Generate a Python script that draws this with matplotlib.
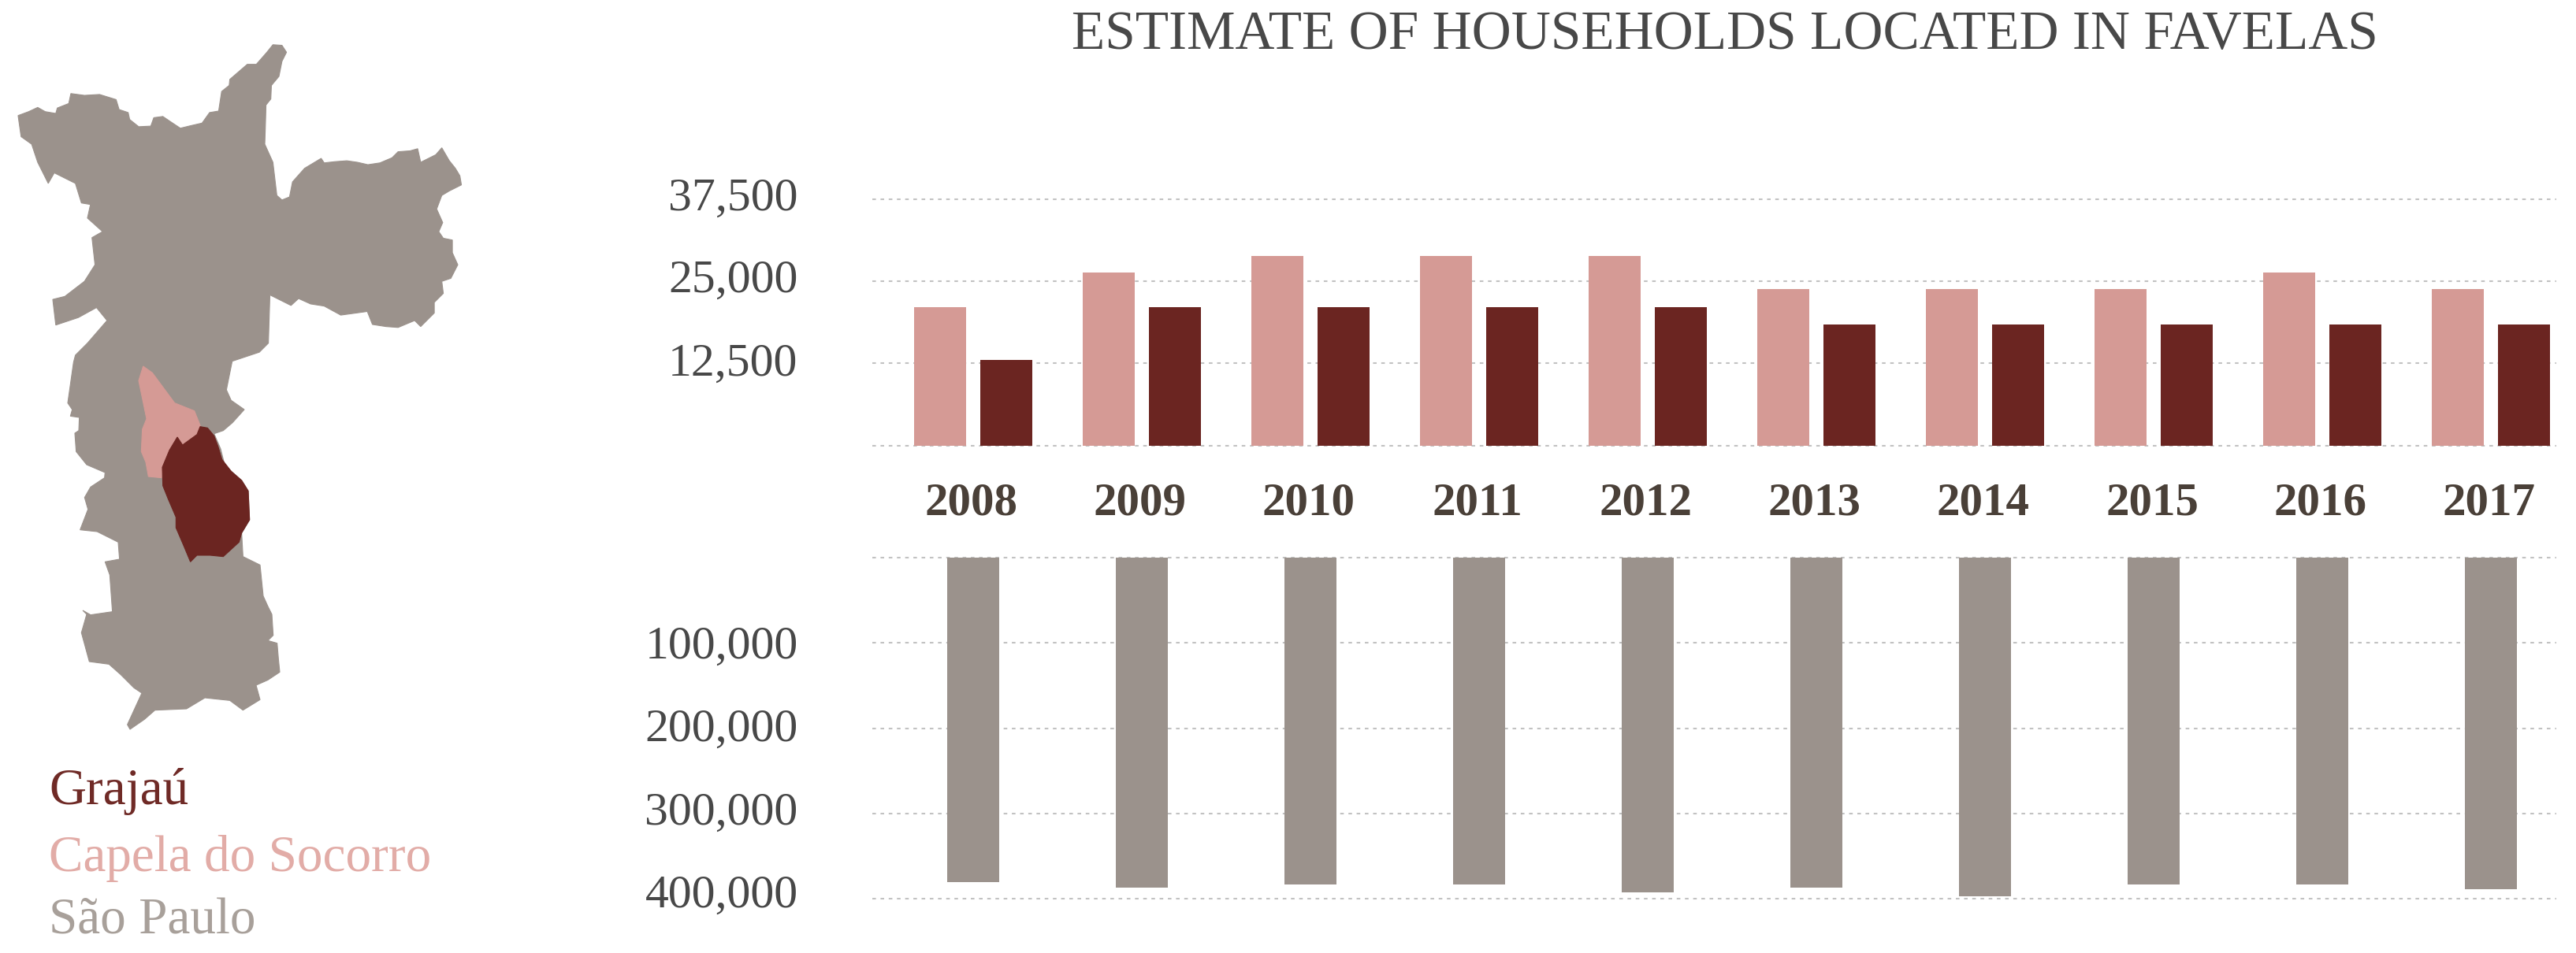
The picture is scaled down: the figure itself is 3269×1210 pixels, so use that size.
import numpy as np
import matplotlib
matplotlib.use("Agg")
import matplotlib.pyplot as plt
from matplotlib.patches import Polygon
from matplotlib.transforms import ScaledTranslation

W, H, DPI = 3269, 1210, 100

# ---- data ----
years = [2008, 2009, 2010, 2011, 2012, 2013, 2014, 2015, 2016, 2017]
capela = [21000, 26300, 28800, 28800, 28800, 23800, 23800, 23800, 26300, 23800]
grajau = [13000, 21000, 21000, 21000, 21000, 18400, 18400, 18400, 18400, 18400]
sao_paulo = [380000, 386500, 383500, 383500, 392000, 386500, 397000, 383500, 383500, 389000]
upper_ticks = [0, 12500, 25000, 37500]
upper_labels = ["", "12,500", "25,000", "37,500"]
lower_ticks = [0, 100000, 200000, 300000, 400000]
lower_labels = ["", "100,000", "200,000", "300,000", "400,000"]
legend_names = ["Grajaú", "Capela do Socorro", "São Paulo"]
title_text = "ESTIMATE OF HOUSEHOLDS LOCATED IN FAVELAS"

# map outlines (two crops with their own units)
outline_north = [(60,305),(95,292),(125,278),(150,292),(185,298),(190,280),(228,265),(235,232),(280,238),(330,235),(385,252),(395,285),(425,295),(430,318),(460,342),(500,340),(510,312),(540,308),(565,325),(598,347),(635,338),(670,330),(695,295),(725,290),(735,225),(760,205),(762,185),(820,135),(850,135),(885,95),(905,70),(935,72),(950,95),(935,125),(925,175),(900,205),(898,250),(882,270),(880,340),(878,400),(905,460),(918,570),(935,585),(960,575),(970,525),(1010,480),(1065,447),(1075,462),(1110,458),(1150,455),(1185,460),(1220,468),(1260,462),(1300,445),(1320,425),(1360,422),(1385,415),(1395,460),(1445,435),(1465,412),(1490,455),(1510,480),(1525,505),(1530,535),(1490,555),(1465,570),(1448,615),(1468,660),(1455,690),(1470,712),(1500,718),(1500,760),(1518,800),(1495,845),(1465,855),(1470,895),(1440,925),(1440,960),(1395,1005),(1375,985),(1320,1008),(1280,1005),(1235,998),(1218,955),(1130,967),(1075,937),(1030,930),(990,912),(965,935),(895,900),(890,1060),(860,1090),(770,1120)]
outline_south = [(725,130),(712,195),(730,235),(780,270),(735,320),(700,350),(665,362),(690,420),(705,480),(730,505),(770,540),(795,580),(800,690),(770,740),(775,830),(840,862),(852,980),(870,1020),(885,1050),(890,1130),(870,1150),(905,1160),(910,1220),(915,1270),(870,1300),(825,1320),(840,1375),(775,1415),(725,1378),(630,1368),(560,1410),(440,1415),(400,1450),(345,1488),(335,1470),(390,1350),(360,1330),(310,1280),(265,1240),(190,1230),(160,1120),(180,1050),(165,1035),(195,1052),(278,1040),(268,900),(250,850),(305,840),(300,775),(220,735),(155,728),(185,650),(172,605),(195,565),(248,530),(250,510),(180,480),(140,430),(135,360),(150,350),(152,300),(118,295),(125,270),(108,245),(130,90)]
outline_west = [(250,1100),(290,1060),(355,985),(320,942),(260,975),(185,1000),(175,915),(215,905),(280,855),(315,800),(305,710),(340,690),(290,645),(300,600),(270,595),(250,530),(180,495),(160,530),(125,460),(105,400),(70,375)]
outline_capela = [(395,105),(430,130),(515,245),(590,275),(612,330),(600,365),(545,405),(525,375),(495,425),(468,490),(465,530),(415,525),(405,470),(388,430),(392,345),(408,305),(378,160)]
outline_grajau = [(612,335),(640,340),(665,370),(680,410),(695,460),(730,505),(770,540),(795,580),(800,690),(770,740),(760,775),(700,830),(650,825),(600,825),(575,850),(550,790),(520,720),(520,680),(490,610),(470,560),(468,490),(495,425),(525,375),(545,405),(600,365)]

# ---- styles ----
PINK = "#d59a95"
DARK = "#6b2521"
GREY = "#9b928c"
TXT = "#484848"
plt.rcParams["font.family"] = ["Liberation Serif", "DejaVu Serif"]

fig = plt.figure(figsize=(W / DPI, H / DPI), dpi=DPI, facecolor="white")

def axes_px(left, right, top, bottom):
    return fig.add_axes([left / W, 1 - bottom / H, (right - left) / W, (bottom - top) / H])

def north(p):
    a = np.array(p, float)
    return np.c_[a[:, 0] / 2.613, 30 + a[:, 1] / 2.613]

def south(p):
    a = np.array(p, float)
    return np.c_[50 + a[:, 0] / 3.0, 430 + a[:, 1] / 3.0]

# map panel in picture units
mp = fig.add_axes([0, 0, 1, 1])
mp.set_xlim(0, W); mp.set_ylim(H, 0); mp.axis("off")
city = np.vstack([north(outline_north), south(outline_south), north(outline_west)])
mp.add_patch(Polygon(city, closed=True, fc=GREY, ec=GREY, lw=0.8))
mp.add_patch(Polygon(south(outline_capela), closed=True, fc=PINK, ec=PINK, lw=0.8))
mp.add_patch(Polygon(south(outline_grajau), closed=True, fc=DARK, ec=DARK, lw=0.8))
for name, col, base in zip(legend_names, ["#6f2a26", "#e2aca7", "#a8a09a"], [1021, 1106, 1186]):
    mp.text(62, base, name, color=col, fontsize=47, ha="left", va="baseline")
mp.text(2189, 62, title_text, color=TXT, fontsize=49.9, ha="center", va="baseline")

# shared x layout
pitch = 214.0
x0 = 1235.0
xl = ((1107 - x0) / pitch, (3244 - x0) / pitch)
x = np.arange(len(years))
bw = 66 / pitch
off = 42 / pitch
grid_kw = dict(color="#c2c2c2", lw=1.5, linestyle=(0, (2.2, 2.8)))

def style(ax, ticks, labels, shifts):
    ax.set_xlim(*xl)
    ax.set_yticks(ticks, labels, fontsize=43, color=TXT)
    ax.tick_params(axis="y", length=0, pad=68)
    ax.grid(axis="y", **grid_kw)
    ax.set_axisbelow(True)
    for s in ax.spines.values():
        s.set_visible(False)
    for lab, dy in zip(ax.get_yticklabels(), shifts):
        lab.set_transform(lab.get_transform() + ScaledTranslation(0, dy / DPI, fig.dpi_scale_trans))
    for g in ax.get_ygridlines():
        g.set_clip_on(False)

# upper chart
top = axes_px(1107, 3244, 252.7, 565.5)
top.patch.set_alpha(0)
top.bar(x - off, capela, width=bw, color=PINK, zorder=2)
top.bar(x + off, grajau, width=bw, color=DARK, zorder=2)
top.set_ylim(0, 37500)
style(top, upper_ticks, upper_labels, [0, 5, 7, 6])
top.set_xticks(x, [str(y) for y in years], fontsize=42.5, fontweight="bold", color="#4a4038")
top.tick_params(axis="x", length=0, pad=34)
for lab in top.get_xticklabels():
    lab.set_transform(lab.get_transform() + ScaledTranslation(-2 / DPI, 0, fig.dpi_scale_trans))

# lower chart
low = axes_px(1107, 3244, 708, 1141.3)
low.patch.set_alpha(0)
low.bar(x, sao_paulo, width=bw, color=GREY, zorder=2)
low.set_ylim(400000, 0)
style(low, lower_ticks, lower_labels, [0, 1, 4, 7, 10])
low.set_xticks([])

fig.savefig("out.png", dpi=DPI, facecolor="white")
